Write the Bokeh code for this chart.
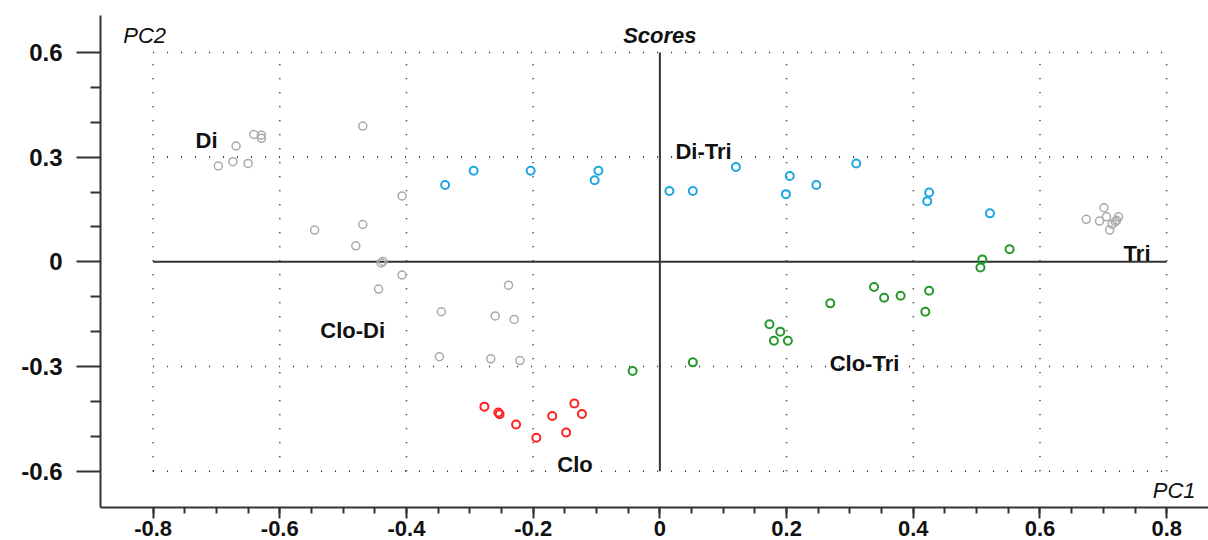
from bokeh.plotting import figure
from bokeh.models import Range1d, FixedTicker, Label, CustomJSTickFormatter
from bokeh.embed import file_html
from bokeh.resources import INLINE

# ---------------- data (PC1 / PC2 scores) ----------------
di_pc1 = [-0.697, -0.674, -0.669, -0.650, -0.641, -0.629, -0.629, -0.469, -0.407, -0.469, -0.545, -0.480]
di_pc2 = [0.275, 0.287, 0.332, 0.282, 0.365, 0.363, 0.354, 0.389, 0.189, 0.107, 0.091, 0.046]

clodi_pc1 = [-0.440, -0.437, -0.407, -0.444, -0.239, -0.345, -0.260, -0.230, -0.348, -0.267, -0.221]
clodi_pc2 = [-0.003, 0.001, -0.038, -0.078, -0.067, -0.143, -0.155, -0.165, -0.272, -0.278, -0.283]

tri_pc1 = [0.673, 0.701, 0.694, 0.705, 0.724, 0.719, 0.714, 0.710, 0.721]
tri_pc2 = [0.122, 0.155, 0.117, 0.129, 0.129, 0.115, 0.108, 0.091, 0.119]

ditri_pc1 = [-0.339, -0.294, -0.204, -0.097, -0.103, 0.015, 0.052, 0.120, 0.205, 0.199, 0.247, 0.310, 0.425, 0.422, 0.521]
ditri_pc2 = [0.220, 0.261, 0.261, 0.261, 0.234, 0.203, 0.203, 0.272, 0.246, 0.194, 0.220, 0.282, 0.199, 0.174, 0.139]

clotri_pc1 = [0.552, 0.509, 0.506, 0.269, 0.338, 0.354, 0.380, 0.425, 0.419, 0.173, 0.190, 0.180, 0.202, 0.052, -0.043]
clotri_pc2 = [0.036, 0.007, -0.016, -0.119, -0.072, -0.103, -0.097, -0.083, -0.143, -0.179, -0.200, -0.226, -0.226, -0.288, -0.313]

clo_pc1 = [-0.277, -0.255, -0.253, -0.227, -0.195, -0.170, -0.148, -0.135, -0.123]
clo_pc2 = [-0.415, -0.432, -0.437, -0.466, -0.504, -0.442, -0.489, -0.406, -0.436]

# group labels and their anchor positions
group_labels = ["Di", "Di-Tri", "Tri", "Clo-Di", "Clo-Tri", "Clo"]
label_pc1 = [-0.733, 0.0245, 0.732, -0.536, 0.268, -0.162]
label_pc2 = [0.349, 0.317, 0.023, -0.196, -0.290, -0.582]

# ticks
x_ticks = [-0.8, -0.6, -0.4, -0.2, 0.0, 0.2, 0.4, 0.6, 0.8]
y_ticks = [-0.6, -0.3, 0.0, 0.3, 0.6]
x_minor = [round(-0.8 + 0.05 * i, 2) for i in range(33)]
y_minor = [-0.5, -0.4, -0.2, -0.1, 0.1, 0.2, 0.4, 0.5]

# dotted reference grid (bounded box) and solid zero axes
grid_x = [-0.8, -0.6, -0.4, -0.2, 0.2, 0.4, 0.6, 0.8]
grid_y = [-0.6, -0.3, 0.3, 0.6]
box_x = [-0.8, 0.8]
box_y = [-0.6, 0.6]

FONT = "Liberation Sans"

p = figure(width=1208, height=540, output_backend="svg", toolbar_location=None,
           x_range=Range1d(-0.883, 0.866), y_range=Range1d(-0.704, 0.706),
           min_border_left=100, min_border_right=0, min_border_top=15, min_border_bottom=33)
p.outline_line_color = None
p.xgrid.visible = False
p.ygrid.visible = False
p.background_fill_color = "white"
p.border_fill_color = "white"

fmt = CustomJSTickFormatter(code="return Math.abs(tick) < 1e-9 ? '0' : tick.toFixed(1);")

# x axis
xa = p.xaxis[0]
xa.ticker = FixedTicker(ticks=x_ticks, minor_ticks=x_minor)
xa.formatter = fmt
xa.axis_line_color = "#333333"
xa.axis_line_width = 2
xa.major_tick_line_color = "#333333"
xa.major_tick_line_width = 2
xa.major_tick_out = 11
xa.major_tick_in = 0
xa.minor_tick_line_color = "#333333"
xa.minor_tick_line_width = 2
xa.minor_tick_out = 6
xa.minor_tick_in = 0
xa.major_label_text_font = FONT
xa.major_label_text_font_style = "bold"
xa.major_label_text_font_size = "22px"
xa.major_label_text_color = "#111111"
xa.major_label_standoff = 2

# y axis
ya = p.yaxis[0]
ya.ticker = FixedTicker(ticks=y_ticks, minor_ticks=y_minor)
ya.formatter = fmt
ya.axis_line_color = "#333333"
ya.axis_line_width = 2
ya.major_tick_line_color = "#333333"
ya.major_tick_line_width = 2
ya.major_tick_out = 24
ya.major_tick_in = 0
ya.minor_tick_line_color = "#333333"
ya.minor_tick_line_width = 2
ya.minor_tick_out = 10
ya.minor_tick_in = 0
ya.major_label_text_font = FONT
ya.major_label_text_font_style = "bold"
ya.major_label_text_font_size = "24px"
ya.major_label_text_color = "#111111"
ya.major_label_standoff = 14

# dotted grid
p.segment(x0=grid_x, y0=[box_y[0]] * len(grid_x), x1=grid_x, y1=[box_y[1]] * len(grid_x),
          line_color="#222222", line_width=1.6, line_dash="1 13")
p.segment(x0=[box_x[0]] * len(grid_y), y0=grid_y, x1=[box_x[1]] * len(grid_y), y1=grid_y,
          line_color="#222222", line_width=1.6, line_dash="1 13")
# solid zero lines
p.segment(x0=[box_x[0], 0], y0=[0, box_y[0]], x1=[box_x[1], 0], y1=[0, box_y[1]],
          line_color="#333333", line_width=2)

GRAY = "#a9a9a9"
BLUE = "#1ea6de"
GREEN = "#24992a"
RED = "#ff2020"

def pts(xs, ys, color, lw):
    p.scatter(xs, ys, marker="circle", size=8, fill_alpha=0, line_color=color, line_width=lw)

pts(di_pc1, di_pc2, GRAY, 1.5)
pts(clodi_pc1, clodi_pc2, GRAY, 1.5)
pts(tri_pc1, tri_pc2, GRAY, 1.5)
pts(ditri_pc1, ditri_pc2, BLUE, 2)
pts(clotri_pc1, clotri_pc2, GREEN, 2)
pts(clo_pc1, clo_pc2, RED, 2)

for t, lx, ly in zip(group_labels, label_pc1, label_pc2):
    p.add_layout(Label(x=lx, y=ly, text=t, text_font=FONT, text_font_style="bold",
                       text_font_size="22px", text_color="#111111",
                       text_align="left", text_baseline="alphabetic"))

p.add_layout(Label(x=0.0, y=0.650, text="Scores", text_font=FONT, text_font_style="bold italic",
                   text_font_size="22px", text_color="#111111",
                   text_align="center", text_baseline="alphabetic"))
p.add_layout(Label(x=-0.847, y=0.650, text="PC2", text_font=FONT, text_font_style="italic",
                   text_font_size="22px", text_color="#111111",
                   text_align="left", text_baseline="alphabetic"))
p.add_layout(Label(x=0.778, y=-0.654, text="PC1", text_font=FONT, text_font_style="italic",
                   text_font_size="22px", text_color="#111111",
                   text_align="left", text_baseline="alphabetic"))

open("out.html", "w").write(file_html(p, INLINE))
